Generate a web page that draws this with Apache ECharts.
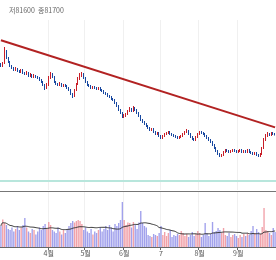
<!DOCTYPE html>
<html><head><meta charset="utf-8">
<script src="https://cdn.jsdelivr.net/npm/echarts@6/dist/echarts.min.js"></script>
<style>html,body{margin:0;padding:0;background:#fff}#c{width:276px;height:260px}</style>
</head><body><div id="c"></div>
<script>
const headerText = '저81600  종81700';
const monthLabels = ['4월','5월','6월','7','8월','9월'];
const monthIdx = [26,46,67,87,108,129];
// [open, close, low, high]
const candles = [
[95900,95500,95300,96100],[95500,96100,95300,96300],[96100,98300,95900,99300],[98300,97100,96900,98700],[97100,96300,96100,97300],
[96300,95500,95300,96500],[95500,95100,94900,95700],[95100,94700,94500,95300],[94700,94900,94500,95300],[94900,94500,94300,95100],
[94500,94300,94100,94700],[94300,94700,94100,94900],[94700,94100,93900,94900],[94100,93900,93700,94300],[93900,94100,93700,94500],
[94100,93500,93300,94300],[93500,93700,93300,94100],[93700,93300,93100,93900],[93300,93500,93100,93900],[93500,93300,93100,93700],
[93300,93100,92900,93500],[93100,92700,92500,93300],[92700,92300,92100,92900],[92300,91700,91500,92500],[91700,91100,90700,91900],
[91100,91700,90900,92100],[91700,93100,91500,93500],[93100,93900,92900,94300],[93900,93300,93100,94100],[93300,92300,92100,93500],
[92300,91900,91700,92500],[91900,91700,91500,92100],[91700,91900,91500,92300],[91900,91500,91300,92100],[91500,91700,91300,91900],
[91700,91500,91300,91900],[91500,91100,90900,91700],[91100,90700,90500,91300],[90700,89900,89700,90900],[89900,89500,89100,90100],
[89500,90700,89300,90900],[90700,91900,90500,92100],[91900,92900,91700,93300],[92900,93700,92700,94100],[93700,93900,93300,94300],
[93900,93100,92900,94100],[93100,92300,92100,93300],[92300,91700,91500,92500],[91700,91500,91300,91900],[91500,91100,90900,91700],
[91100,91300,90900,91500],[91300,91100,90900,91500],[91100,90900,90700,91300],[90900,91100,90700,91300],[91100,90700,90500,91300],
[90700,90500,90300,90900],[90500,90100,89900,90700],[90100,89900,89700,90300],[89900,89500,89300,90100],[89500,89300,89100,89700],
[89300,88900,88700,89500],[88900,88700,88500,89100],[88700,88100,87900,88900],[88100,87500,87300,88300],[87500,86700,86500,87700],
[86700,86100,85900,86900],[86100,85300,85100,86300],[85300,85500,85100,85900],[85500,85900,85300,86100],[85900,86500,85700,86700],
[86500,86900,86300,87300],[86900,86500,86300,87100],[86500,87100,86300,87500],[87100,86700,86500,87300],[86700,86100,85900,86900],
[86100,85500,85300,86300],[85500,84700,84500,85700],[84700,84300,84100,84900],[84300,83900,83700,84500],[83900,83500,83300,84100],
[83500,83100,82900,83700],[83100,82700,82500,83300],[82700,82900,82500,83100],[82900,82300,82100,83100],[82300,81900,81700,82500],
[81900,82100,81700,82300],[82100,81500,81300,82300],[81500,81100,80900,81700],[81100,81500,80900,81700],[81500,81900,81300,82100],
[81900,82100,81700,82300],[82100,82300,81900,82500],[82300,81900,81700,82500],[81900,81700,81500,82100],[81700,81500,81300,81900],
[81500,81300,81100,81700],[81300,81100,80900,81500],[81100,81300,80900,81500],[81300,81500,81100,81700],[81500,81900,81300,82100],
[81900,82300,81700,82500],[82300,82500,82100,82900],[82500,81900,81700,82700],[81900,81300,81100,82100],[81300,80900,80700,81500],
[80900,80700,80500,81100],[80700,81300,80500,81500],[81300,81900,81100,82100],[81900,82300,81700,82500],[82300,82100,81900,82500],
[82100,81900,81700,82300],[81900,81500,81300,82100],[81500,81100,80900,81700],[81100,80700,80500,81300],[80700,80300,80100,80900],
[80300,79700,79500,80500],[79700,79100,78900,79900],[79100,78500,78300,79300],[78500,77900,77700,78700],[77900,77500,77300,78100],
[77500,77700,77300,77900],[77700,78300,77500,78500],[78300,78700,78100,78900],[78700,78500,78300,78900],[78500,78300,78100,78700],
[78300,78500,78100,78700],[78500,78700,78300,78900],[78700,78500,78300,78900],[78500,78300,78100,78700],[78300,78500,78100,78700],
[78500,78700,78300,78900],[78700,78300,78100,78900],[78300,78500,78100,78700],[78500,78300,78100,78700],[78300,78700,78100,78900],
[78700,78300,78100,78900],[78300,78100,77900,78500],[78100,77900,77700,78300],[77900,78100,77700,78300],[78100,77700,77500,78300],
[77700,77500,77300,77900],[77500,77900,77300,78100],[77900,79100,77700,79300],[79100,80700,78900,81100],[80700,81500,80500,81900],
[81500,81900,81300,82300],[81900,81700,81500,82100],[81700,82100,81500,82300],[82100,81900,81700,82300],[81900,81700,81600,82100]
];
const volumes = [
8400,11000,9600,8800,7200,6800,7800,6200,7200,8400,
6800,7800,8800,11600,7800,6200,5600,7200,6800,5000,
6200,7800,6800,8400,9200,7200,10000,8800,6800,6200,
5600,7800,6200,5000,6800,5600,7200,8400,9600,10400,
9800,10400,10800,10400,9200,6800,7800,6200,5600,7200,
5000,6200,5600,6800,7800,6200,7200,8400,6800,8800,
7800,6200,9200,8400,9600,10800,18000,10800,8800,9800,
9600,7800,10000,8800,7200,9800,14400,9600,8400,7800,
4800,4400,4000,5200,4800,4400,5600,8400,4800,6000,
4400,5600,6800,4000,4800,4400,5200,4800,6400,5600,
4400,5200,4000,4800,6000,4400,5200,6400,5600,4000,
4800,9600,5600,4400,5200,10000,6000,6400,7600,6800,
5600,7600,4800,4400,5600,4000,4800,5200,4400,3600,
4800,4000,5200,4400,5600,4800,6400,8400,5600,7200,
6000,5200,8000,15600,6800,6400,5600,4800,7600,6000
];
const trendLine = [100640, 83220];
const supportLevel = 72500;

const N = candles.length;
const cats = candles.map((d, i) => String(i));
const isUp = candles.map(d => d[1] >= d[0]);
const ma = volumes.map((v, i) => {
  const s = Math.max(0, i - 19);
  let sum = 0; for (let k = s; k <= i; k++) sum += volumes[k];
  return sum / (i - s + 1);
});
const trendData = cats.map((c, i) => i === 0 ? trendLine[0] : (i === N - 1 ? trendLine[1] : null));
const isMonth = (i) => monthIdx.indexOf(i) >= 0;

const chart = echarts.init(document.getElementById('c'), null, {renderer: 'canvas'});
chart.setOption({
  animation: false,
  backgroundColor: '#fff',
  title: {text: headerText, left: 4, top: 2, textStyle: {fontSize: 7, fontWeight: 'normal', color: '#666', fontFamily: 'Noto Sans CJK KR'}},
  grid: [
    {left: 0, right: 0, top: 20, bottom: 70},
    {left: 0, right: 0, top: 191, bottom: 13}
  ],
  xAxis: [
    {type: 'category', gridIndex: 0, data: cats, boundaryGap: true,
     axisLine: {show: false}, axisTick: {show: false}, axisLabel: {show: false},
     splitLine: {show: true, interval: (i) => isMonth(i), lineStyle: {color: '#f0f0f0', width: 1}}},
    {type: 'category', gridIndex: 1, data: cats, boundaryGap: true, position: 'bottom',
     axisLine: {show: true, lineStyle: {color: '#666', width: 1}},
     axisTick: {show: true, interval: (i) => isMonth(i), length: 3, lineStyle: {color: '#666'}},
     axisLabel: {show: true, interval: (i) => isMonth(i), formatter: (v) => { const k = monthIdx.indexOf(Number(v)); return k >= 0 ? monthLabels[k] : ''; },
       fontSize: 7, color: '#555', margin: 3, fontFamily: 'Noto Sans CJK KR'},
     splitLine: {show: true, interval: (i) => isMonth(i), lineStyle: {color: '#f0f0f0'}}},
    {type: 'category', gridIndex: 1, data: cats, boundaryGap: true, position: 'top',
     axisLine: {show: true, lineStyle: {color: '#777', width: 1}},
     axisTick: {show: false}, axisLabel: {show: false}}
  ],
  yAxis: [
    {type: 'value', gridIndex: 0, min: 70700, max: 104700, show: false, splitLine: {show: false}},
    {type: 'value', gridIndex: 1, min: 0, max: 22400, show: false, splitLine: {show: false}}
  ],
  series: [
    {type: 'candlestick', xAxisIndex: 0, yAxisIndex: 0, data: candles.map(d => [d[0], d[1], d[2], d[3]]),
     barWidth: 1.2,
     itemStyle: {color: '#c81e28', color0: '#1848a0', borderColor: '#c81e28', borderColor0: '#1848a0', borderWidth: 1},
     markLine: {silent: true, symbol: 'none', label: {show: false},
       lineStyle: {color: '#b8e6dc', width: 2, type: 'solid'}, data: [{yAxis: supportLevel}]}},
    {type: 'line', xAxisIndex: 0, yAxisIndex: 0, data: trendData, connectNulls: true, symbol: 'none',
     lineStyle: {color: '#b22222', width: 2}},
    {type: 'bar', xAxisIndex: 1, yAxisIndex: 1, data: volumes.map((v, i) => ({value: v, itemStyle: {color: isUp[i] ? 'rgba(236,130,140,0.75)' : 'rgba(130,130,230,0.75)'}})),
     barCategoryGap: '25%'},
    {type: 'line', xAxisIndex: 1, yAxisIndex: 1, data: ma, symbol: 'none', smooth: true,
     lineStyle: {color: '#333', width: 1}}
  ]
});
</script></body></html>
